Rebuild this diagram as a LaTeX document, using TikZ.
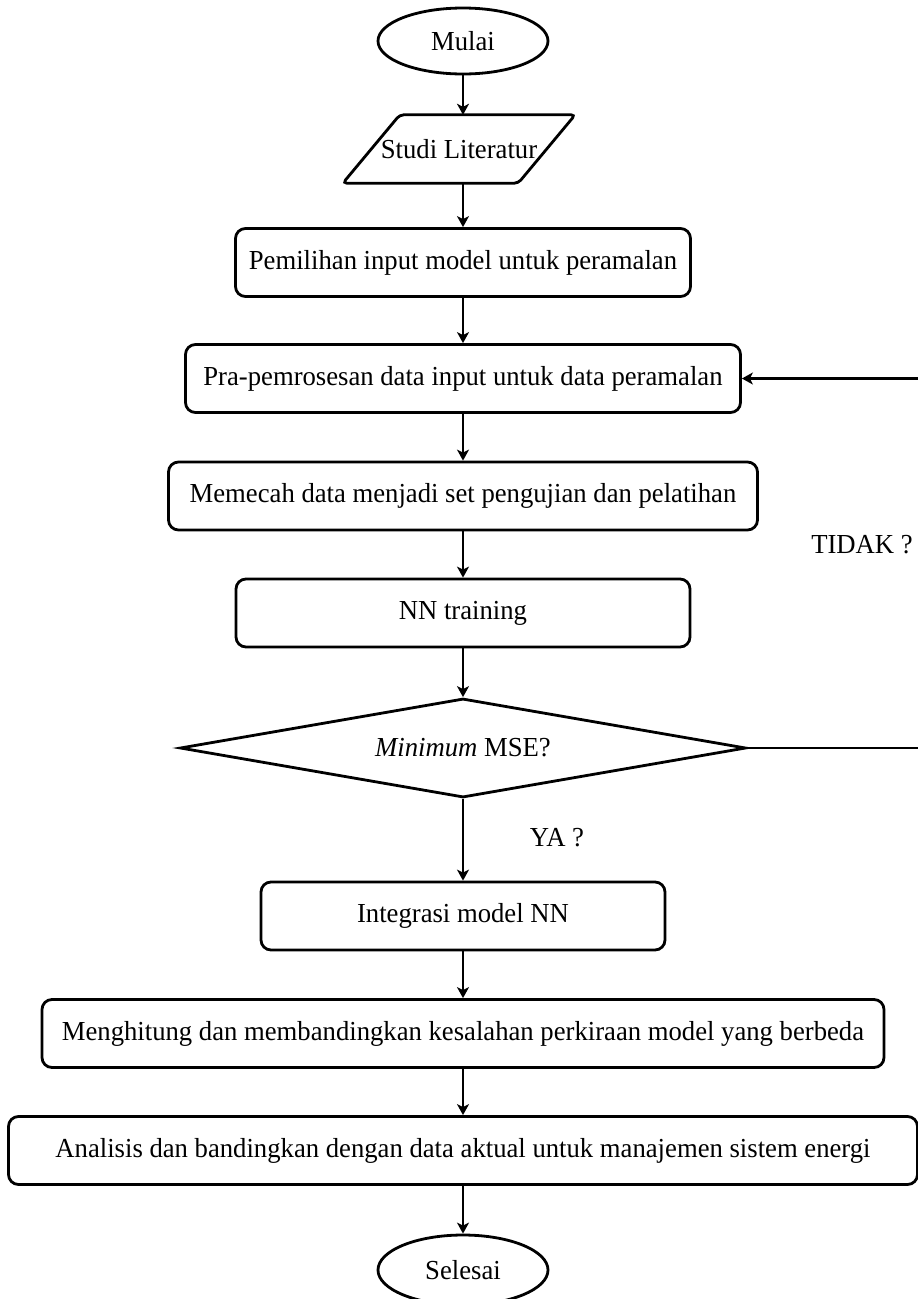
\documentclass[tikz,border=0pt]{standalone}
\usepackage{fontspec}
\setmainfont{Liberation Serif}[FakeStretch=0.97]
\usetikzlibrary{shapes.geometric,arrows.meta}
\begin{document}
\begin{tikzpicture}[x=1pt,y=-1pt,
  txt/.style={font=\fontsize{27.5}{33}\selectfont},
  procbox/.style={txt,draw,line width=2.8pt,rounded corners=10pt,
    minimum height=68pt,inner sep=0pt},
  termin/.style={txt,draw,ellipse,line width=2.8pt,minimum width=170pt,
    minimum height=66pt,inner sep=0pt},
  flow/.style={line width=1.9pt,-{Stealth[length=11pt,width=12pt,inset=3pt]}},
  loopline/.style={flow,line width=2.5pt},
]
\useasboundingbox (0,0) rectangle (918,1299);
\clip (0,0) rectangle (918,1299);

% terminals, process steps and the decision
\node[termin] (mulai) at (463,41) {Mulai};
\node[txt,minimum width=175pt,minimum height=68pt,inner sep=0pt] (lit) at (459,149) {Studi Literatur};
\draw[line width=2.8pt,rounded corners=4pt]
  ([xshift=28.5pt]lit.north west) -- ([xshift=28.5pt]lit.north east) --
  ([xshift=-28.5pt]lit.south east) -- ([xshift=-28.5pt]lit.south west) -- cycle;
\node[procbox,minimum width=455pt] (pilih) at (463,262.5) {Pemilihan input model untuk peramalan};
\node[procbox,minimum width=555pt] (pra) at (463,378.5) {Pra-pemrosesan data input untuk data peramalan};
\node[procbox,minimum width=589pt] (pecah) at (463,496) {Memecah data menjadi set pengujian dan pelatihan};
\node[procbox,minimum width=454pt] (train) at (463,613) {NN training};
\node[txt,draw,diamond,aspect=5.7,line width=2.8pt,inner sep=0pt,
  minimum width=566pt,minimum height=99pt] (mse) at (463,748) {\textit{Minimum} MSE?};
\node[procbox,minimum width=404pt] (integ) at (463,916) {Integrasi model NN};
\node[procbox,minimum width=842pt] (hitung) at (463,1033.5) {Menghitung dan membandingkan kesalahan perkiraan model yang berbeda};
\node[procbox,minimum width=909pt] (anal) at (463,1150.5) {Analisis dan bandingkan dengan data aktual untuk manajemen sistem energi};
\node[termin,minimum height=70pt] (selesai) at (463,1270) {Selesai};

% branch labels
\node[txt] (tidak) at (862,545) {TIDAK ?};
\node[txt] (ya) at (557,838) {YA ?};

% main flow
\draw[flow] (mulai.south) -- (mulai.south |- lit.north);
\draw[flow] (mulai.south |- lit.south) -- (pilih.north);
\draw[flow] (pilih) -- (pra);
\draw[flow] (pra) -- (pecah);
\draw[flow] (pecah) -- (train);
\draw[flow] (train) -- (mse);
\draw[flow] (mse) -- (integ);
\draw[flow] (integ) -- (hitung);
\draw[flow] (hitung) -- (anal);
\draw[flow] (anal) -- (selesai);

% return path when the error is not yet minimal
\coordinate (back) at (940,748);
\draw[loopline] (mse.east) -- (back) |- (pra.east);
\end{tikzpicture}
\end{document}
